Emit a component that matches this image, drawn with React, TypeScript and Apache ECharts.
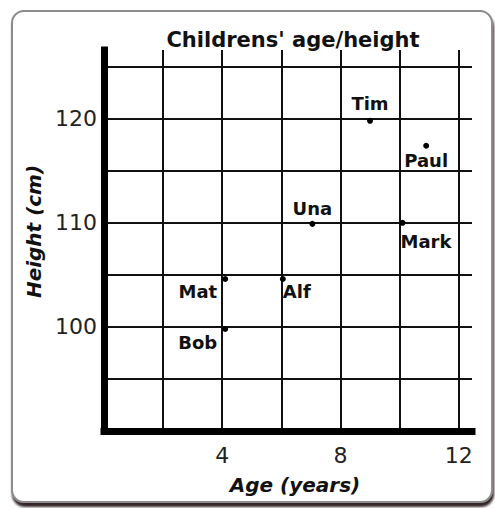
import React, { useEffect, useRef } from "react";
import * as echarts from "echarts";

// ---- data ----
const names = ["Tim", "Paul", "Una", "Mark", "Mat", "Alf", "Bob"];
const ages = [9, 10.9, 7.05, 10.1, 4.1, 6.05, 4.1];
const heights = [119.8, 117.4, 109.9, 110, 104.6, 104.6, 99.8];
const xTickLabels = [4, 8, 12];
const yTickLabels = [100, 110, 120];
const titleText = "Childrens' age/height";
const xName = "Age (years)";
const yName = "Height (cm)";

const labelPlacement: Record<string, any> = {
  Tim: { position: "top", distance: 5 },
  Paul: { position: "bottom", distance: 3 },
  Una: { position: "top", distance: 3 },
  Mark: { position: "bottom", distance: 7, align: "left", offset: [-2, 0] },
  Mat: { position: "left", distance: 5, offset: [0, 12] },
  Alf: { position: "bottom", distance: 0, align: "left" },
  Bob: { position: "left", distance: 5, offset: [0, 14] },
};

const FONT = "DejaVu Sans";

export default function App() {
  const ref = useRef<HTMLDivElement>(null);

  useEffect(() => {
    document.body.style.margin = "0";
    if (!ref.current) return;
    const chart = echarts.init(ref.current, undefined, { renderer: "svg" });

    const data = names.map((n, i) => ({
      name: n,
      value: [ages[i], heights[i]],
      label: {
        show: true,
        formatter: n,
        fontFamily: FONT,
        fontWeight: "bold",
        fontSize: 18,
        color: "#111",
        ...labelPlacement[n],
      },
    }));

    chart.setOption({
      animation: false,
      backgroundColor: "#ffffff",
      graphic: [
        {
          type: "rect",
          z: -10,
          silent: true,
          shape: { x: 12, y: 11, width: 480, height: 491, r: 12 },
          style: {
            fill: "#ffffff",
            stroke: "#8c8c8c",
            lineWidth: 2,
            shadowColor: "rgba(30,10,10,0.9)",
            shadowOffsetX: 1,
            shadowOffsetY: 4,
            shadowBlur: 2,
          },
        },
      ],
      title: {
        text: titleText,
        left: 288,
        textAlign: "center",
        top: 24,
        textStyle: {
          fontFamily: FONT,
          fontWeight: "bold",
          fontSize: 21,
          color: "#111",
        },
      },
      grid: {
        left: 104,
        right: 23,
        top: 50,
        bottom: 77,
        containLabel: false,
        outerBoundsMode: "none",
      },
      xAxis: {
        type: "value",
        min: 0,
        max: 12.45,
        interval: 2,
        name: xName,
        nameLocation: "middle",
        nameGap: 44,
        nameTextStyle: {
          fontFamily: FONT,
          fontWeight: "bold",
          fontStyle: "italic",
          fontSize: 20,
          color: "#111",
          padding: [0, 0, 0, 14],
        },
        axisLine: {
          show: true,
          lineStyle: { color: "#000", width: 7, cap: "square" },
        },
        axisTick: { show: false },
        axisLabel: {
          margin: 13,
          fontFamily: FONT,
          fontSize: 22,
          color: "#222",
          formatter: (v: number) => (xTickLabels.includes(v) ? String(v) : ""),
        },
        splitLine: {
          show: true,
          showMinLine: false,
          showMaxLine: false,
          lineStyle: { color: "#111", width: 2 },
        },
      },
      yAxis: {
        type: "value",
        min: 90,
        max: 126.6,
        interval: 5,
        name: yName,
        nameLocation: "middle",
        nameGap: 58,
        nameTextStyle: {
          fontFamily: FONT,
          fontWeight: "bold",
          fontStyle: "italic",
          fontSize: 20,
          color: "#111",
          padding: [0, 0, 0, 18],
        },
        axisLine: {
          show: true,
          lineStyle: { color: "#000", width: 7, cap: "square" },
        },
        axisTick: { show: false },
        axisLabel: {
          margin: 7,
          fontFamily: FONT,
          fontSize: 22,
          color: "#222",
          formatter: (v: number) => (yTickLabels.includes(v) ? String(v) : ""),
        },
        splitLine: {
          show: true,
          showMinLine: false,
          showMaxLine: false,
          lineStyle: { color: "#111", width: 2 },
        },
      },
      series: [
        {
          type: "scatter",
          symbol: "circle",
          symbolSize: 6,
          itemStyle: { color: "#000", opacity: 1 },
          data,
          z: 5,
        },
      ],
    });

    return () => chart.dispose();
  }, []);

  return <div ref={ref} style={{ width: 495, height: 508 }} />;
}
